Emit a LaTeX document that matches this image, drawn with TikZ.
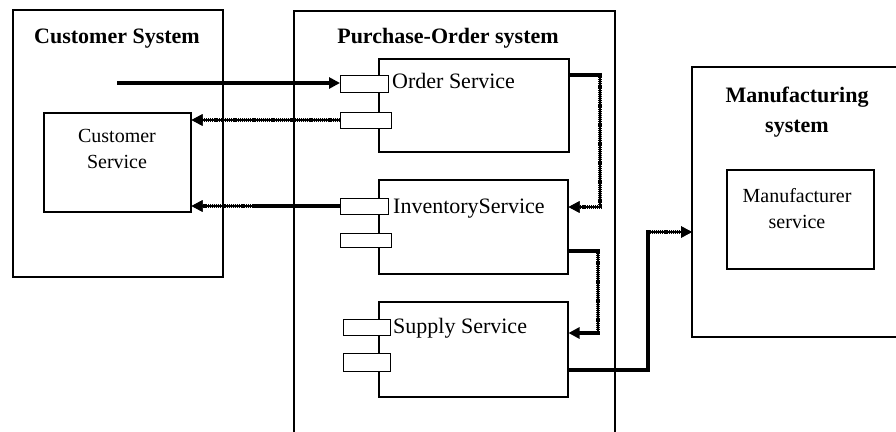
\documentclass[tikz,border=0pt]{standalone}
\usepackage{fontspec}
\setmainfont{Liberation Serif}
\usetikzlibrary{arrows.meta}
\begin{document}
\begin{tikzpicture}[x=1pt,y=-1pt,
  frame/.style={draw,line width=1.5pt},
  boxnode/.style={draw,line width=1.5pt,inner sep=0pt,anchor=north west},
  portbox/.style={draw,line width=1.4pt,fill=white,inner sep=0pt,anchor=north west},
  title/.style={font=\fontsize{22}{32}\selectfont\bfseries,align=center,inner sep=0pt},
  svc/.style={font=\fontsize{22}{26}\selectfont,inner sep=0pt,anchor=base west},
  inner/.style={font=\fontsize{20}{26}\selectfont,align=center,inner sep=0pt,anchor=base},
  solidline/.style={line width=3.2pt},
  dotline/.style={line width=3.2pt,dash pattern=on 1.1pt off 0.8pt,
    postaction={draw,line width=1.4pt,solid}},
  tip/.style={-{Triangle[length=11pt,width=11pt]}},
]
\useasboundingbox (0,0) rectangle (896,431);
% outer systems
\node[boxnode,minimum width=210pt,minimum height=267pt] (cs) at (12,9) {};
\draw[frame] (294,433) -- (294,11) -- (615,11) -- (615,433);
\coordinate (poTL) at (294,11);
\draw[frame] (898,67) -- (692,67) -- (692,337) -- (898,337);
\coordinate (mfL) at (692,232);
% inner boxes
\node[boxnode,minimum width=147pt,minimum height=99pt] (custsvc) at (43,112) {};
\node[boxnode,minimum width=190pt,minimum height=93pt] (order) at (378,58) {};
\node[boxnode,minimum width=189pt,minimum height=94pt] (inv) at (378,179) {};
\node[boxnode,minimum width=189pt,minimum height=95pt] (sup) at (378,301) {};
\node[boxnode,minimum width=147pt,minimum height=99pt] (mfsvc) at (726,169) {};
% ports
\node[portbox,minimum width=48pt,minimum height=17pt] (op1) at (340,75) {};
\node[portbox,minimum width=51pt,minimum height=16pt] (op2) at (340,112) {};
\node[portbox,minimum width=48pt,minimum height=16pt] (ip1) at (340,198) {};
\node[portbox,minimum width=51pt,minimum height=14pt] (ip2) at (340,233) {};
\node[portbox,minimum width=47pt,minimum height=16pt] (sp1) at (343,319) {};
\node[portbox,minimum width=47pt,minimum height=18pt] (sp2) at (343,353) {};
% titles
\node[title,anchor=base] (tcs) at (117,43) {Customer System};
\node[title,anchor=base] (tpo) at (448,43) {Purchase-Order system};
\node[title,anchor=base] (tmf1) at (797,102) {Manufacturing};
\node[title,anchor=base] (tmf2) at (797,132) {system};
% service labels
\node[svc] (lo) at (392,88) {Order Service};
\node[svc] (li) at (393,213) {InventoryService};
\node[svc] (ls) at (393,333) {Supply Service};
\node[inner] (lc1) at (117,142) {Customer};
\node[inner] (lc2) at (117,168) {Service};
\node[inner] (lm1) at (797,202) {Manufacturer};
\node[inner] (lm2) at (797,228) {service};
% connectors
\coordinate (start) at (117,83);
\draw[solidline,tip] (start) -- (op1.west |- start);
\draw[dotline,tip] (op2.west |- 0,120) -- (custsvc.east |- 0,120);
\coordinate (c3a) at (253,206);
\draw[solidline] (ip1.west |- c3a) -- (c3a);
\draw[dotline,tip] (c3a) -- (custsvc.east |- c3a);
% order -> inventory
\coordinate (c4a) at (600,75);
\coordinate (c4b) at (600,207);
\draw[solidline] (order.east |- c4a) -- ([xshift=1.6pt]c4a);
\draw[dotline] (c4a) -- (c4b);
\draw[dotline,tip] ([xshift=1.6pt]c4b) -- (inv.east |- c4b);
% inventory -> supply
\coordinate (c5a) at (598,251);
\coordinate (c5b) at (598,333);
\draw[solidline] (inv.east |- c5a) -- ([xshift=1.6pt]c5a);
\draw[dotline] (c5a) -- (c5b);
\draw[solidline,tip] ([xshift=1.6pt]c5b) -- (sup.east |- c5b);
% supply -> manufacturing
\coordinate (c6a) at (648,370);
\coordinate (c6b) at (648,232);
\draw[solidline,line join=miter] (sup.east |- c6a) -- (c6a) -- ([yshift=1.6pt]c6b);
\draw[dotline,tip] ([xshift=-1.6pt]c6b) -- (mfL);
\end{tikzpicture}
\end{document}
